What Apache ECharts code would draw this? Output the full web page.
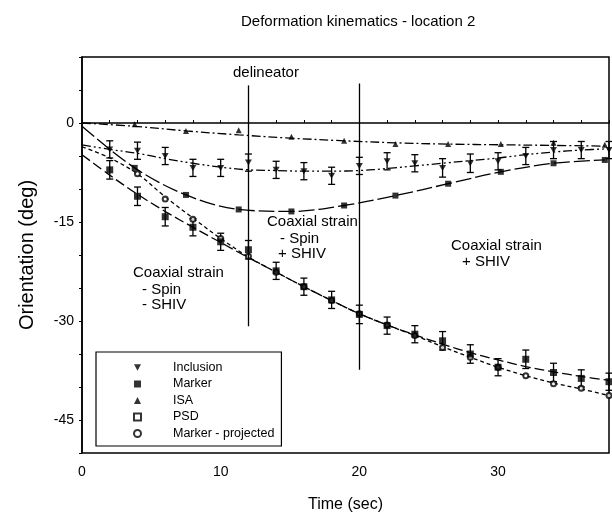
<!DOCTYPE html>
<html>
<head>
<meta charset="utf-8">
<script src="https://cdn.jsdelivr.net/npm/echarts@6/dist/echarts.min.js"></script>
<style>html,body{margin:0;padding:0;background:#fff}#c{width:612px;height:518px}</style>
</head>
<body>
<div id="c"></div>
<script>
// ---- data ----
const timeEven = [0,2,4,6,8,10,12,14,16,18,20,22,24,26,28,30,32,34,36,38];
const timeObs  = [2,4,6,8,10,12,14,16,18,20,22,24,26,28,30,32,34,36,38];
const timeSlow = [0,3.8,7.5,11.3,15.1,18.9,22.6,26.4,30.2,34.0,37.7];

const inclusionObs = [-4.0,-4.2,-5.0,-6.8,-6.8,-6.0,-7.1,-7.3,-8.0,-6.5,-5.8,-6.1,-6.8,-6.1,-5.8,-5.0,-4.1,-4.1,-4.1];
const inclusionErr = [1.3,1.3,1.3,1.3,1.3,1.3,1.3,1.3,1.3,1.3,1.3,1.3,1.4,1.4,1.3,1.3,1.3,1.3,1.3];
const inclusionFit = [-3.3,-4.0,-4.6,-5.4,-6.1,-6.7,-7.1,-7.2,-7.3,-7.3,-7.2,-6.9,-6.5,-6.1,-5.7,-5.3,-4.8,-4.4,-4.1,-3.9];

const markerObs = [-7.1,-11.1,-14.2,-15.8,-18.0,-19.2,-22.4,-24.8,-26.8,-29.0,-30.7,-32.0,-33.0,-35.0,-37.0,-35.8,-37.8,-38.7,-39.2];
const markerErr = [1.4,1.4,1.4,1.3,1.3,1.4,1.3,1.3,1.3,1.4,1.3,1.3,1.4,1.4,1.3,1.4,1.4,1.3,1.3];
const markerFit = [-4.8,-7.9,-10.8,-13.4,-15.8,-18.1,-20.4,-22.6,-24.8,-26.9,-28.9,-30.6,-32.1,-33.5,-34.8,-35.9,-36.9,-37.7,-38.4,-39.0];

const isaObs = [0,-0.2,-1.2,-1.1,-2.1,-2.7,-3.2,-3.2,-3.2,-3.0,-3.3];
const isaFit = [0,-0.5,-1.2,-1.8,-2.3,-2.7,-3.0,-3.2,-3.3,-3.4,-3.5];

const psdVals = [-0.5,-6.8,-10.9,-13.1,-13.4,-12.5,-11.0,-9.2,-7.4,-6.1,-5.6];

const projectedFit = [-3.6,-5.3,-7.7,-11.2,-14.4,-17.5,-20.3,-22.6,-24.8,-26.9,-28.9,-30.6,-32.2,-33.9,-35.5,-37.0,-38.3,-39.4,-40.3,-41.3];
const projectedObsTime = [4,6,8,10,12,14,16,18,20,22,24,26,28,30,32,34,36,38];
const projectedObs = [-7.7,-11.5,-14.6,-17.5,-20.2,-22.6,-24.8,-26.9,-28.9,-30.6,-32.2,-34.0,-35.5,-37.0,-38.3,-39.5,-40.2,-41.3];

const delineatorTimes = [12, 20];
const delineatorTop = [5.7, 6.0];
const delineatorBottom = [-30.8, -37.4];

const yTickLabels = [0, -15, -30, -45];
const xTickLabels = [0, 10, 20, 30];

const legendNames = ['Inclusion','Marker','ISA','PSD','Marker - projected'];

// ---- build ----
const FONT = "'Liberation Sans', Arial, sans-serif";
const BLACK = '#000';
const zip = (xs, ys) => xs.map((x, i) => [x, ys[i]]);
const zip3 = (xs, ys, es) => xs.map((x, i) => [x, ys[i], es[i]]);
const downTri = 'path://M0,0 L10,0 L5,9 Z';

function errorBars(params, api) {
  const x = api.value(0), y = api.value(1), e = api.value(2);
  const t = api.coord([x, y + e]);
  const b = api.coord([x, y - e]);
  const w = 3.5;
  const st = { stroke: BLACK, lineWidth: 1.3 };
  return {
    type: 'group',
    children: [
      { type: 'line', shape: { x1: t[0], y1: t[1], x2: b[0], y2: b[1] }, style: st },
      { type: 'line', shape: { x1: t[0] - w, y1: t[1], x2: t[0] + w, y2: t[1] }, style: st },
      { type: 'line', shape: { x1: b[0] - w, y1: b[1], x2: b[0] + w, y2: b[1] }, style: st }
    ]
  };
}

function fitLine(name, data, dash) {
  return {
    name: name, type: 'line', data: data, smooth: 0.35, symbol: 'none',
    lineStyle: { color: BLACK, width: 1.3, type: dash }, z: 2, silent: true
  };
}

const chart = echarts.init(document.getElementById('c'), null, { renderer: 'canvas' });

const delineatorData = delineatorTimes.map((t, i) => [
  { coord: [t, delineatorTop[i]] },
  { coord: [t, delineatorBottom[i]] }
]);

const textStyle15 = { fill: BLACK, font: "15px " + FONT };

chart.setOption({
  animation: false,
  backgroundColor: '#fff',
  title: {
    text: 'Deformation kinematics - location 2',
    left: 236, top: 9,
    textStyle: { fontFamily: FONT, fontSize: 15, fontWeight: 'normal', color: BLACK }
  },
  grid: { left: 82, right: 0, top: 57, bottom: 64, show: true, borderColor: BLACK, borderWidth: 1.5, backgroundColor: 'transparent' },
  xAxis: {
    type: 'value', min: 0, max: 38, interval: 2,
    name: 'Time (sec)', nameLocation: 'middle', nameGap: 44,
    nameTextStyle: { fontFamily: FONT, fontSize: 16, color: BLACK },
    axisLine: { show: true, lineStyle: { color: BLACK, width: 1.5 } },
    axisTick: { show: true, inside: true, length: 3, lineStyle: { color: BLACK } },
    splitLine: { show: false },
    axisLabel: {
      fontFamily: FONT, fontSize: 14, color: BLACK, margin: 12,
      formatter: v => (xTickLabels.indexOf(v) >= 0 ? String(v) : '')
    }
  },
  yAxis: {
    type: 'value', min: -50, max: 10, interval: 5,
    name: 'Orientation (deg)', nameLocation: 'middle', nameGap: 45, nameRotate: 90,
    nameTextStyle: { fontFamily: FONT, fontSize: 20, color: BLACK },
    axisLine: { show: true, lineStyle: { color: BLACK, width: 1.5 } },
    axisTick: { show: true, inside: false, length: 3, lineStyle: { color: BLACK } },
    splitLine: { show: false },
    axisLabel: {
      fontFamily: FONT, fontSize: 14, color: BLACK, margin: 8,
      formatter: v => (yTickLabels.indexOf(v) >= 0 ? String(v) : '')
    }
  },
  legend: {
    orient: 'vertical', left: 96, top: 352,
    padding: [9, 7, 6, 37],
    itemWidth: 7, itemHeight: 7, itemGap: 3.5,
    borderColor: BLACK, borderWidth: 1.2, backgroundColor: '#fff',
    selectedMode: false,
    textStyle: { fontFamily: FONT, fontSize: 12.5, color: BLACK, lineHeight: 12, padding: [0, 0, 0, 27] },
    data: [
      { name: 'Inclusion', icon: downTri },
      { name: 'Marker', icon: 'rect' },
      { name: 'ISA', icon: 'triangle' },
      { name: 'PSD', icon: 'emptyRect' },
      { name: 'Marker - projected', icon: 'emptyCircle' }
    ]
  },
  series: [
    fitLine('isaFit', zip(timeSlow, isaFit), [9, 3, 2, 3]),
    fitLine('inclusionFit', zip(timeEven, inclusionFit), [9, 3, 2, 3, 2, 3]),
    fitLine('psdFit', zip(timeSlow, psdVals), [16, 4]),
    fitLine('markerFit', zip(timeEven, markerFit), [10, 4]),
    fitLine('projectedFit', zip(timeEven, projectedFit), [4, 3]),
    {
      name: 'delineators', type: 'line', data: [], silent: true,
      markLine: {
        silent: true, symbol: ['none', 'none'], animation: false,
        label: { show: false },
        lineStyle: { color: BLACK, width: 1.3, type: 'solid' },
        data: delineatorData
      }
    },
    { name: 'incErr', type: 'custom', renderItem: errorBars, data: zip3(timeObs, inclusionObs, inclusionErr), z: 3, silent: true },
    { name: 'mkErr', type: 'custom', renderItem: errorBars, data: zip3(timeObs, markerObs, markerErr), z: 3, silent: true },
    { name: legendNames[4], type: 'scatter', data: zip(projectedObsTime, projectedObs), symbol: 'emptyCircle', symbolSize: 5,
      itemStyle: { color: BLACK, borderColor: BLACK, borderWidth: 1.2 }, z: 4 },
    { name: legendNames[3], type: 'scatter', data: zip(timeSlow.slice(1), psdVals.slice(1)), symbol: 'rect', symbolSize: 6,
      itemStyle: { color: BLACK }, z: 4 },
    { name: legendNames[2], type: 'scatter', data: zip(timeSlow.slice(1), isaObs.slice(1)), symbol: 'triangle', symbolSize: 6,
      itemStyle: { color: BLACK }, z: 4 },
    { name: legendNames[1], type: 'scatter', data: zip(timeObs, markerObs), symbol: 'rect', symbolSize: 7,
      itemStyle: { color: BLACK }, z: 5 },
    { name: legendNames[0], type: 'scatter', data: zip(timeObs, inclusionObs), symbol: downTri, symbolSize: [7, 6],
      itemStyle: { color: BLACK }, z: 5 }
  ],
  graphic: [
    { type: 'text', left: 233, top: 65, style: Object.assign({ text: 'delineator' }, textStyle15) },
    { type: 'text', left: 267, top: 214, style: Object.assign({ text: 'Coaxial strain' }, textStyle15) },
    { type: 'text', left: 280, top: 231, style: Object.assign({ text: '- Spin' }, textStyle15) },
    { type: 'text', left: 278, top: 246, style: Object.assign({ text: '+ SHIV' }, textStyle15) },
    { type: 'text', left: 133, top: 265, style: Object.assign({ text: 'Coaxial strain' }, textStyle15) },
    { type: 'text', left: 142, top: 282, style: Object.assign({ text: '- Spin' }, textStyle15) },
    { type: 'text', left: 142, top: 297, style: Object.assign({ text: '- SHIV' }, textStyle15) },
    { type: 'text', left: 451, top: 238, style: Object.assign({ text: 'Coaxial strain' }, textStyle15) },
    { type: 'text', left: 462, top: 254, style: Object.assign({ text: '+ SHIV' }, textStyle15) }
  ]
});
</script>
</body>
</html>
